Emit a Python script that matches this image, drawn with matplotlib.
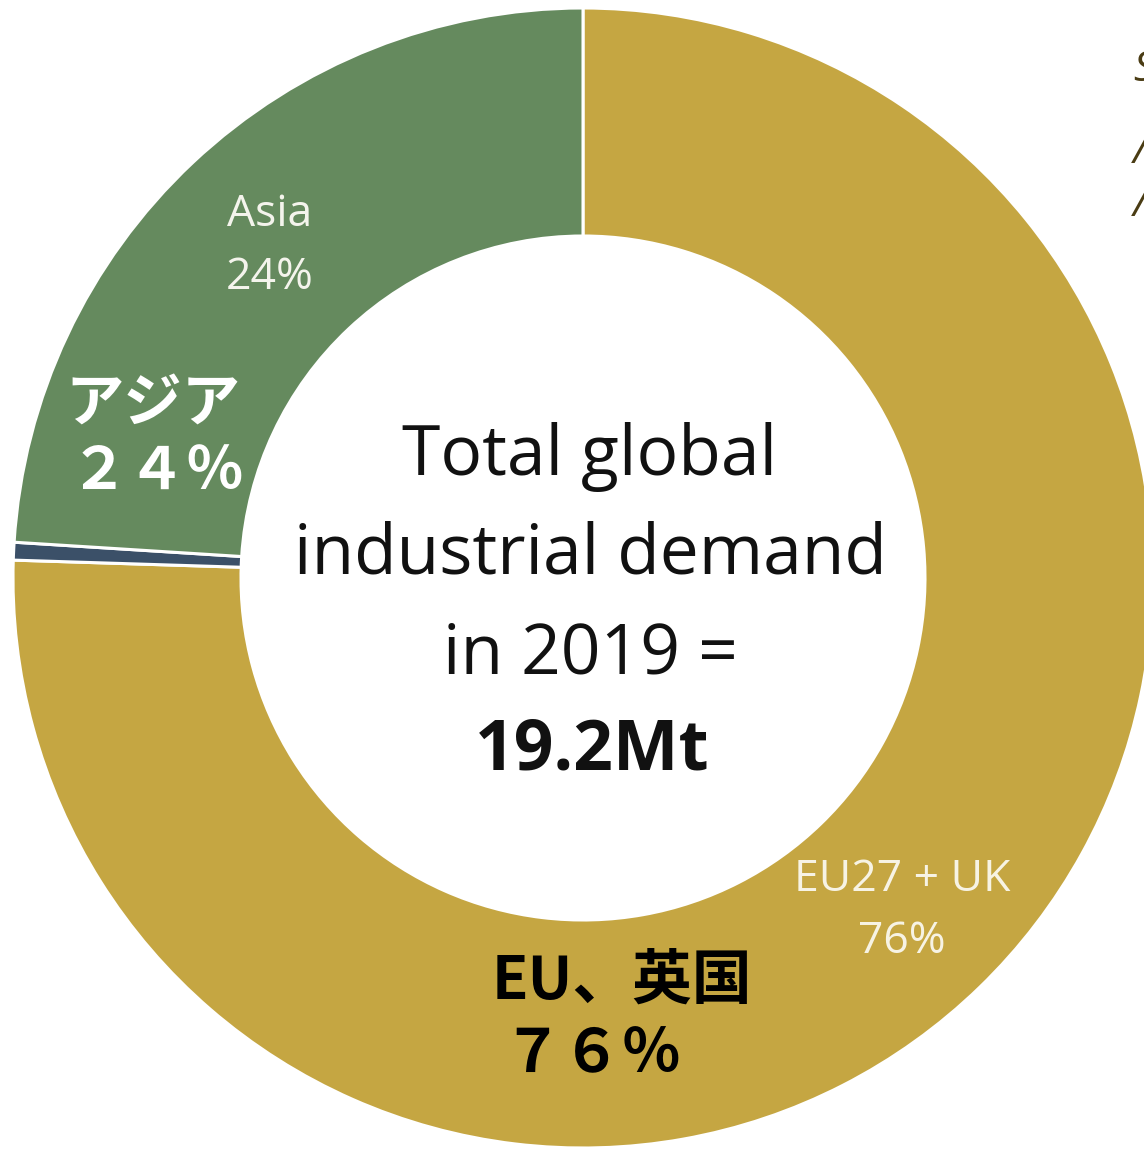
import matplotlib.pyplot as plt

# shares of total global industrial demand, 2019 (%)
regions = ['EU27 + UK', 'Other', 'Asia']
shares = [75.5, 0.5, 24.0]
colors = ['#C5A642', '#3B5068', '#658A5E']

W, H = 1144, 1149
fig = plt.figure(figsize=(W / 100, H / 100), dpi=100)
ax = fig.add_axes([0, 0, 1, 1])

cx, cy = 583, H - 578
r_out, r_in = 570, 342
ax.pie(shares, colors=colors, startangle=90, counterclock=False,
       center=(cx, cy), radius=r_out, frame=True,
       wedgeprops=dict(width=r_out - r_in, edgecolor='white', linewidth=2.2))
ax.set_xlim(0, W)
ax.set_ylim(0, H)
ax.axis('off')


def y(top):
    return H - top


latin = ['Open Sans', 'DejaVu Sans']
cjk = ['Noto Sans CJK JP', 'DejaVu Sans']

# centre text
for txt, yy in [('Total global', 457), ('industrial demand', 555), ('in 2019 =', 655)]:
    ax.text(590, y(yy), txt, ha='center', va='center', fontsize=50,
            family=latin, color='#111111')
ax.text(592, y(752), '19.2Mt', ha='center', va='center', fontsize=50,
        family=latin, weight='bold', color='#111111')

# original english labels
ax.text(270, y(215), 'Asia', ha='center', va='center', fontsize=32,
        family=latin, color='#F4F4EC')
ax.text(270, y(278), '24%', ha='center', va='center', fontsize=32,
        family=latin, color='#F4F4EC')
ax.text(902, y(880), 'EU27 + UK', ha='center', va='center', fontsize=32,
        family=latin, color='#F7F3E4')
ax.text(902, y(942), '76%', ha='center', va='center', fontsize=32,
        family=latin, color='#F7F3E4')

# japanese labels
ax.text(153, y(405), 'アジア', ha='center', va='center', fontsize=42,
        family=cjk, weight='bold', color='white')
ax.text(157, y(473), '２４％', ha='center', va='center', fontsize=42,
        family=cjk, weight='bold', color='white')
ax.text(622, y(982), 'EU、英国', ha='center', va='center', fontsize=43,
        family=cjk, weight='bold', color='black')
ax.text(592, y(1055), '７６％', ha='center', va='center', fontsize=43,
        family=cjk, weight='bold', color='black')

# cut-off text on the right edge
for ch, yy in [('S', 70), ('/', 152), ('/', 205)]:
    ax.text(1133, y(yy), ch, ha='left', va='center', fontsize=30,
            family=latin, style='italic', color='#4A3C14', clip_on=False)

fig.savefig('out.png', dpi=100)
